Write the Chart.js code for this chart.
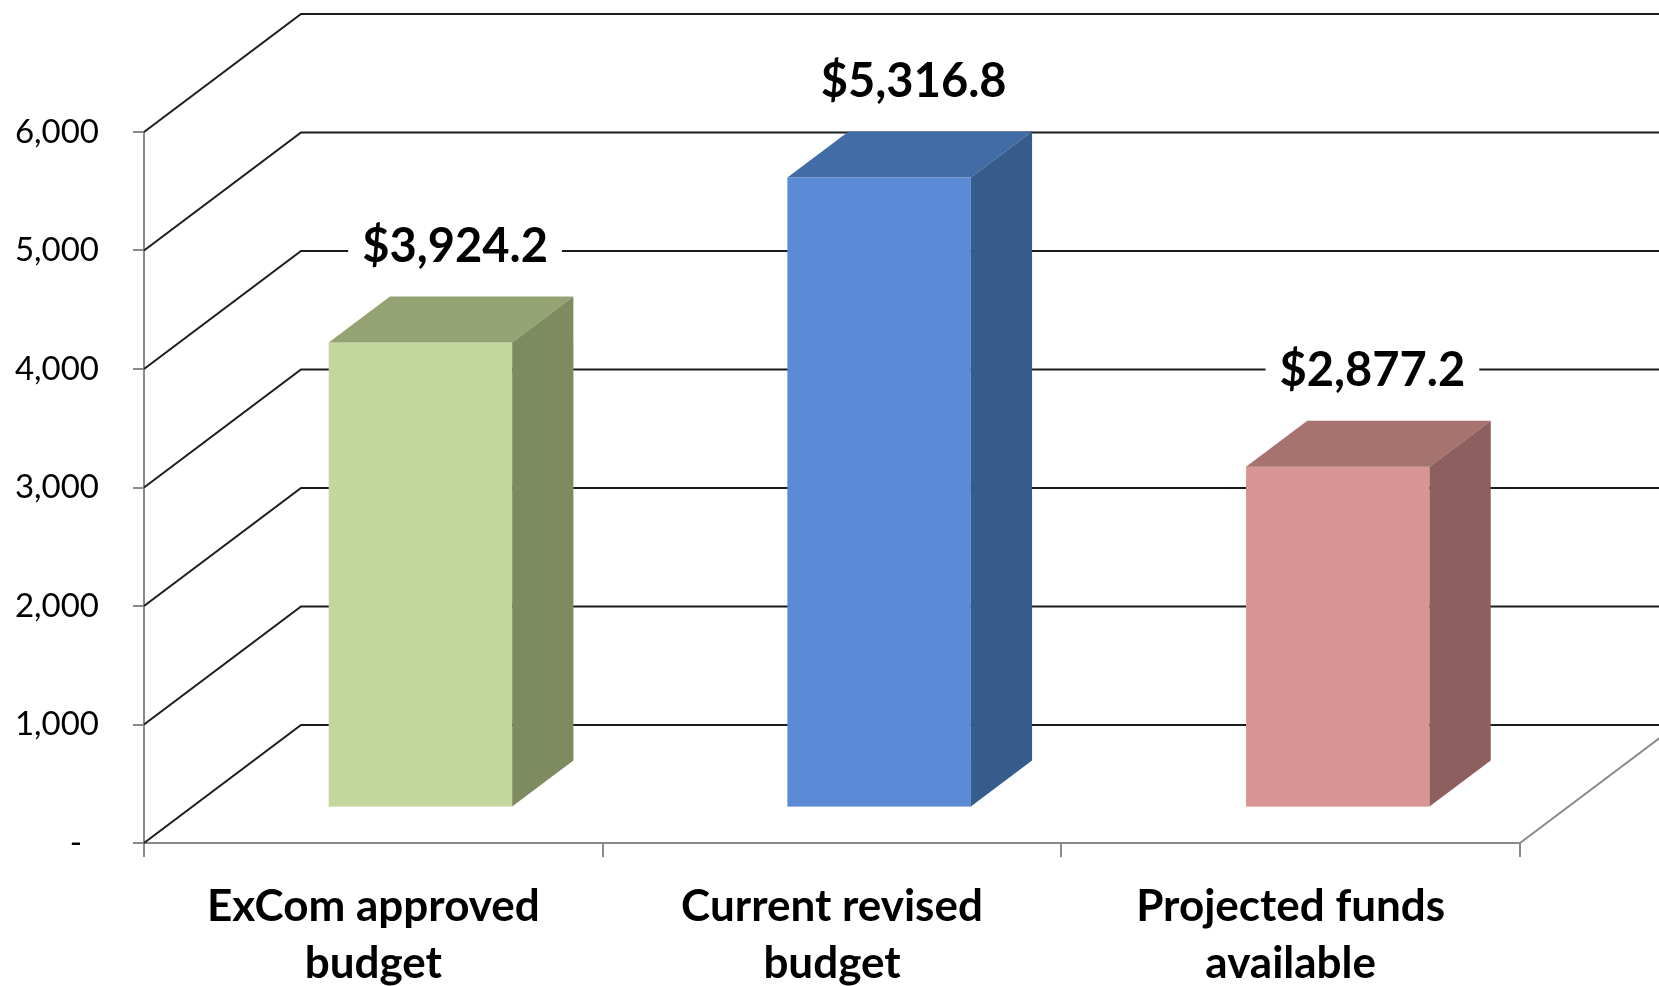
<html>
<head>
<meta charset="utf-8">
<title>Budget</title>
<style>
  body { margin: 0; background: #fff; }
  canvas { display: block; }
</style>
</head>
<body>
<canvas id="chart" width="1659" height="986"></canvas>
<script src="https://cdn.jsdelivr.net/npm/chart.js"></script>
<script>
// data
var categories = [["ExCom approved", "budget"], ["Current revised", "budget"], ["Projected funds", "available"]];
var amounts = [3924.2, 5316.8, 2877.2];
var frontColors = ["#c3d69b", "#5b8bd6", "#d99594"];
var topColors = ["#95a374", "#426ca6", "#a6736f"];
var sideColors = ["#7e8a5f", "#365c8b", "#8d5f5e"];
var yTicks = [0, 1000, 2000, 3000, 4000, 5000, 6000];

// 3d look: full wall depth and where the bars sit inside it
var DEPTH_X = 157, DEPTH_Y = 118;
var BAR_FRONT = 0.3, BAR_DEPTH = 0.39;

Chart.defaults.font.family = "Lato";
Chart.defaults.color = "#000";

var walls = {
    id: "walls",
    beforeDatasetsDraw: function (chart) {
        var c = chart.ctx, y = chart.scales.y, area = chart.chartArea;
        c.save();
        c.strokeStyle = "#1c1c1c";
        c.lineWidth = 2;
        yTicks.forEach(function (v) {
            var py = y.getPixelForValue(v);
            c.beginPath();
            c.moveTo(area.left, py);
            c.lineTo(area.left + DEPTH_X, py - DEPTH_Y);
            c.lineTo(chart.width + 40, py - DEPTH_Y);
            c.stroke();
        });
        // floor, right edge
        var base = y.getPixelForValue(0);
        c.strokeStyle = "#8a8a8a";
        c.beginPath();
        c.moveTo(area.right, base);
        c.lineTo(area.right + DEPTH_X, base - DEPTH_Y);
        c.stroke();
        c.restore();
    },
    afterDatasetsDraw: function (chart) {
        var c = chart.ctx;
        var meta = chart.getDatasetMeta(0);
        var fx = BAR_FRONT * DEPTH_X, fy = BAR_FRONT * DEPTH_Y;
        var dx = BAR_DEPTH * DEPTH_X, dy = BAR_DEPTH * DEPTH_Y;
        c.save();
        meta.data.forEach(function (el, i) {
            var p = el.getProps(["x", "y", "base", "width"], true);
            var L = p.x - p.width / 2 + fx, R = p.x + p.width / 2 + fx;
            var T = p.y - fy, B = p.base - fy;
            c.fillStyle = frontColors[i];
            c.fillRect(L, T, R - L, B - T);
            c.fillStyle = topColors[i];
            c.beginPath();
            c.moveTo(L, T); c.lineTo(R, T); c.lineTo(R + dx, T - dy); c.lineTo(L + dx, T - dy);
            c.closePath(); c.fill();
            c.fillStyle = sideColors[i];
            c.beginPath();
            c.moveTo(R, T); c.lineTo(R + dx, T - dy); c.lineTo(R + dx, B - dy); c.lineTo(R, B);
            c.closePath(); c.fill();
        });
        // value labels
        c.font = "bold 47px Lato";
        c.textAlign = "center";
        c.textBaseline = "middle";
        meta.data.forEach(function (el, i) {
            var p = el.getProps(["x", "y"], true);
            var txt = "$" + amounts[i].toLocaleString("en-US", {minimumFractionDigits: 1, maximumFractionDigits: 1});
            var cx = p.x + fx + dx / 2 + 4, cy = p.y - fy - dy - 50;
            var w = c.measureText(txt).width;
            c.fillStyle = "#fff";
            c.fillRect(cx - w / 2 - 14, cy - 26, w + 28, 52);
            c.fillStyle = "#000";
            c.fillText(txt, cx, cy);
        });
        c.restore();
    }
};

var chart = new Chart(document.getElementById("chart"), {
    type: "bar",
    data: {
        labels: categories,
        datasets: [{
            data: amounts,
            backgroundColor: "rgba(0,0,0,0)",
            categoryPercentage: 1,
            barPercentage: 0.4
        }]
    },
    options: {
        responsive: false,
        animation: false,
        layout: { padding: { top: 132, right: 139, left: 0, bottom: 0 } },
        plugins: { legend: { display: false }, tooltip: { enabled: false } },
        scales: {
            x: {
                offset: true,
                afterFit: function (s) { s.height = 143; },
                grid: { offset: true, drawOnChartArea: false, tickLength: 14, color: "#8a8a8a", lineWidth: 2 },
                border: { color: "#8a8a8a", width: 2 },
                ticks: { font: { size: 44, weight: "bold", lineHeight: "57px" }, padding: 21, maxRotation: 0, color: "#000" }
            },
            y: {
                min: 0,
                max: 6000,
                afterFit: function (s) { s.width = 144; },
                afterBuildTicks: function (s) { s.ticks = yTicks.map(function (v) { return {value: v}; }); },
                grid: { drawOnChartArea: false, tickLength: 11, color: "#8a8a8a", lineWidth: 2 },
                border: { color: "#8a8a8a", width: 2 },
                ticks: {
                    font: { size: 33 },
                    padding: 34,
                    color: "#000",
                    callback: function (v) { return v === 0 ? "-  " : v.toLocaleString("en-US"); }
                }
            }
        }
    },
    plugins: [walls]
});
</script>
</body>
</html>
